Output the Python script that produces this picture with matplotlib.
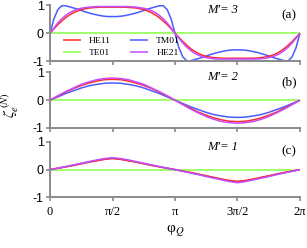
import numpy as np
import matplotlib
matplotlib.use("Agg")
import matplotlib.pyplot as plt

plt.rcParams['mathtext.fontset'] = 'stix'

# ---- data ----
modes = ["HE11", "TE01", "TM01", "HE21"]
colors = {"HE11": "#ff2a2a", "TE01": "#88ff44", "TM01": "#4a5cff", "HE21": "#c44dff"}

phi_a = np.linspace(0, 2 * np.pi, 65)
phi_bc = np.linspace(0, 2 * np.pi, 33)

he11_a = [0, 0.16, 0.31, 0.44, 0.56, 0.66, 0.74, 0.80, 0.85, 0.88, 0.91, 0.92, 0.93, 0.94, 0.94, 0.94,
          0.94,
          0.94, 0.94, 0.94, 0.93, 0.92, 0.91, 0.88, 0.85, 0.80, 0.74, 0.66, 0.56, 0.44, 0.31, 0.16,
          0,
          -0.15, -0.30, -0.43, -0.55, -0.65, -0.73, -0.79, -0.83, -0.86, -0.88, -0.89, -0.90, -0.90, -0.90, -0.90,
          -0.90,
          -0.90, -0.90, -0.90, -0.90, -0.89, -0.88, -0.86, -0.83, -0.79, -0.73, -0.65, -0.55, -0.43, -0.30, -0.15,
          0]
he21_a = [0, 0.19, 0.37, 0.52, 0.64, 0.74, 0.81, 0.86, 0.90, 0.92, 0.94, 0.95, 0.96, 0.96, 0.96, 0.96,
          0.96,
          0.96, 0.96, 0.96, 0.96, 0.95, 0.94, 0.92, 0.90, 0.86, 0.81, 0.74, 0.64, 0.52, 0.37, 0.19,
          0,
          -0.18, -0.35, -0.50, -0.62, -0.72, -0.79, -0.84, -0.88, -0.90, -0.92, -0.93, -0.93, -0.93, -0.93, -0.93,
          -0.93,
          -0.93, -0.93, -0.93, -0.93, -0.93, -0.92, -0.90, -0.88, -0.84, -0.79, -0.72, -0.62, -0.50, -0.35, -0.18,
          0]
tm01_a = [0, 0.52, 0.85, 0.99, 0.99, 0.95, 0.91, 0.87, 0.82, 0.77, 0.73, 0.69, 0.66, 0.63, 0.61, 0.60,
          0.60,
          0.60, 0.61, 0.63, 0.66, 0.69, 0.73, 0.77, 0.82, 0.87, 0.91, 0.95, 0.99, 0.99, 0.85, 0.52,
          0,
          -0.52, -0.85, -0.99, -0.99, -0.95, -0.91, -0.87, -0.82, -0.77, -0.73, -0.69, -0.66, -0.63, -0.61, -0.60,
          -0.60,
          -0.60, -0.61, -0.63, -0.66, -0.69, -0.73, -0.77, -0.82, -0.87, -0.91, -0.95, -0.99, -0.99, -0.85, -0.52,
          0]
te01_a = [0] * 65

he11_b = [0, 0.15, 0.29, 0.42, 0.53, 0.62, 0.69, 0.74, 0.75, 0.74, 0.69, 0.62, 0.53, 0.42, 0.29, 0.15, 0,
          -0.15, -0.29, -0.43, -0.54, -0.64, -0.71, -0.76, -0.77, -0.76, -0.71, -0.64, -0.54, -0.43, -0.29, -0.15, 0]
he21_b = [0, 0.16, 0.31, 0.44, 0.57, 0.66, 0.74, 0.78, 0.80, 0.78, 0.74, 0.66, 0.57, 0.44, 0.31, 0.16, 0,
          -0.16, -0.32, -0.46, -0.59, -0.69, -0.77, -0.81, -0.83, -0.81, -0.77, -0.69, -0.59, -0.46, -0.32, -0.16, 0]
tm01_b = [0, 0.12, 0.24, 0.34, 0.44, 0.52, 0.57, 0.61, 0.62, 0.61, 0.57, 0.52, 0.44, 0.34, 0.24, 0.12, 0,
          -0.12, -0.24, -0.34, -0.44, -0.52, -0.57, -0.61, -0.62, -0.61, -0.57, -0.52, -0.44, -0.34, -0.24, -0.12, 0]
te01_b = [0] * 33

he11_c = [0, 0.05, 0.10, 0.15, 0.21, 0.27, 0.32, 0.37, 0.40, 0.37, 0.32, 0.27, 0.21, 0.15, 0.10, 0.05, 0,
          -0.05, -0.10, -0.16, -0.22, -0.28, -0.34, -0.39, -0.42, -0.39, -0.34, -0.28, -0.22, -0.16, -0.10, -0.05, 0]
he21_c = [0, 0.055, 0.11, 0.17, 0.23, 0.29, 0.35, 0.40, 0.43, 0.40, 0.35, 0.29, 0.23, 0.17, 0.11, 0.055, 0,
          -0.06, -0.12, -0.18, -0.25, -0.31, -0.37, -0.43, -0.47, -0.43, -0.37, -0.31, -0.25, -0.18, -0.12, -0.06, 0]
tm01_c = [0, 0.05, 0.105, 0.16, 0.22, 0.28, 0.33, 0.38, 0.41, 0.38, 0.33, 0.28, 0.22, 0.16, 0.105, 0.05, 0,
          -0.055, -0.11, -0.17, -0.23, -0.29, -0.35, -0.41, -0.45, -0.41, -0.35, -0.29, -0.23, -0.17, -0.11, -0.055, 0]
te01_c = [0] * 33

panels = [
    ("(a)", "M\u2032= 3", phi_a, {"HE11": he11_a, "TE01": te01_a, "TM01": tm01_a, "HE21": he21_a}),
    ("(b)", "M\u2032= 2", phi_bc, {"HE11": he11_b, "TE01": te01_b, "TM01": tm01_b, "HE21": he21_b}),
    ("(c)", "M\u2032= 1", phi_bc, {"HE11": he11_c, "TE01": te01_c, "TM01": tm01_c, "HE21": he21_c}),
]

xticks = [0, np.pi / 2, np.pi, 3 * np.pi / 2, 2 * np.pi]
xticklabels = ["0", "π/2", "π", "3π/2", "2π"]
yticks = [-1, 0, 1]
yticklabels = ["-1", "0", "1"]

# ---- figure ----
fig = plt.figure(figsize=(3.07, 2.48), dpi=100)
L, W, H = 0.163, 0.814, 0.224
bottoms = [0.754, 0.484, 0.204]
spine_c = "#8a8a8a"
draw_order = ["TE01", "TM01", "HE11", "HE21"]

for i, (tag, mlabel, phi, series) in enumerate(panels):
    ax = fig.add_axes([L, bottoms[i], W, H])
    lines = {}
    for m in draw_order:
        ln, = ax.plot(phi, series[m], color=colors[m], lw=1.1, label=m, clip_on=False,
                      solid_capstyle='butt')
        lines[m] = ln
    ax.set_xlim(0, 2 * np.pi)
    ax.set_ylim(-1, 1)
    ax.spines['top'].set_visible(False)
    ax.spines['right'].set_visible(False)
    for s in ('left', 'bottom'):
        ax.spines[s].set_color(spine_c)
        ax.spines[s].set_linewidth(1.4)
    ax.set_xticks(xticks)
    ax.set_yticks(yticks)
    ax.set_yticklabels(yticklabels, family="Liberation Sans", fontsize=9)
    ax.tick_params(direction='out', length=3, width=1.2, color=spine_c, pad=1.5)
    if i == 2:
        ax.set_xticklabels(xticklabels, family="Liberation Serif", fontsize=9)
        ax.tick_params(axis='x', pad=3)
        ax.set_xlabel("φ$_{Q}$", family="Liberation Serif", fontsize=11, labelpad=4)
    else:
        ax.set_xticklabels([])
    ax.text(0.69, 0.91, mlabel, transform=ax.transAxes, family="Liberation Serif",
            style='italic', fontsize=9, ha='center', va='center')
    ax.text(0.955, 0.83, tag, transform=ax.transAxes, family="Liberation Serif",
            fontsize=9.5, ha='center', va='center')
    if i == 0:
        leg = ax.legend([lines[m] for m in modes], modes, ncol=2, loc='lower left',
                        bbox_to_anchor=(0.02, -0.07), frameon=False,
                        prop={'family': 'Liberation Serif', 'size': 6.8},
                        handlelength=1.9, handletextpad=0.9, columnspacing=2.0,
                        labelspacing=0.35, borderpad=0.3)

fig.text(0.035, 0.575, r"$\zeta_{e}^{\,(N)}$", rotation=90, fontsize=11,
         ha='center', va='center')

fig.savefig("out.png", dpi=100)
